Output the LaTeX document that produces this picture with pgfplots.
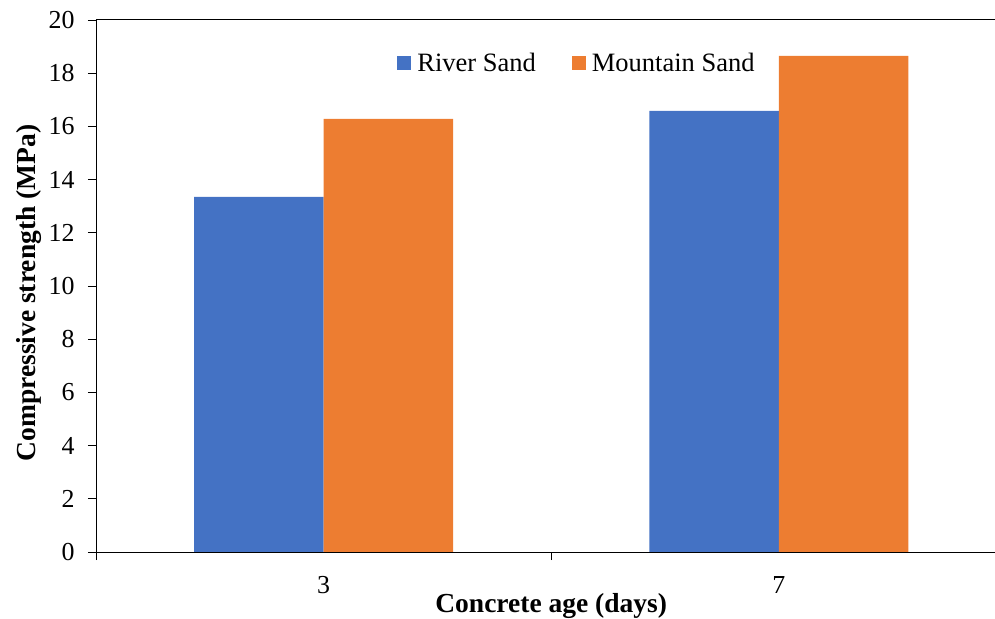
\documentclass[border=0pt]{standalone}
\usepackage{pgfplots}
\pgfplotsset{compat=1.18}
\usepackage{fontspec}
\setmainfont{Liberation Serif}
\newfontfamily\tnr{Liberation Serif}
\definecolor{rblue}{HTML}{4472C4}
\definecolor{morange}{HTML}{ED7D31}
\begin{document}
\begin{tikzpicture}
\begin{axis}[
  width=899bp, height=532bp, scale only axis,
  xmin=-0.5, xmax=1.475,
  ymin=0, ymax=20,
  ytick={0,2,...,20},
  xtick={0,1}, xticklabels={3,7},
  minor xtick={-0.5,0.5,1.5},
  major x tick style={draw=none},
  minor x tick style={black, line width=0.8pt},
  minor tick length=8bp,
  major tick length=8bp,
  tick align=outside,
  axis line style={black, line width=1pt},
  y tick style={black, line width=0.8pt},
  axis x line*=bottom, axis y line*=left,
  /pgf/number format/assume math mode=true,
  ticklabel style={font=\tnr\fontsize{26}{30}\selectfont},
  xticklabel style={anchor=center, yshift=-25bp},
  yticklabel style={anchor=east, xshift=-10bp},
  xlabel={\textbf{Concrete age (days)}},
  ylabel={\textbf{Compressive strength (MPa)}},
  label style={font=\tnr\fontsize{27.6}{32}\selectfont},
  xlabel style={at={([yshift=-54bp]axis cs:0.5,0)}, anchor=center},
  ylabel style={at={([xshift=-67bp,yshift=-7bp]axis description cs:0,0.5)}, anchor=center},
  ybar, bar width=0.2845,
  legend columns=2,
  legend style={draw=none, fill=none, at={(0.535,0.919)}, anchor=center,
    font=\tnr\fontsize{26.6}{30}\selectfont, /tikz/every even column/.append style={column sep=34bp}},
  legend image code/.code={\fill[#1] (0bp,-7bp) rectangle (14bp,7bp); \path (18bp,0bp);},
  after end axis/.code={\draw[black, line width=1pt] (rel axis cs:0,1) -- (rel axis cs:1,1);},
]
\addplot[fill=rblue, draw=none, bar shift=-0.14225] coordinates {(0,13.35) (1,16.58)};
\addplot[fill=morange, draw=none, bar shift=0.14225] coordinates {(0,16.28) (1,18.65)};
\legend{River Sand, Mountain Sand}
\end{axis}
\pgfresetboundingbox
\path[use as bounding box] ([shift={(-96bp,-67bp)}]current axis.south west) rectangle ([shift={(0bp,20bp)}]current axis.north east);
\end{tikzpicture}
\end{document}
